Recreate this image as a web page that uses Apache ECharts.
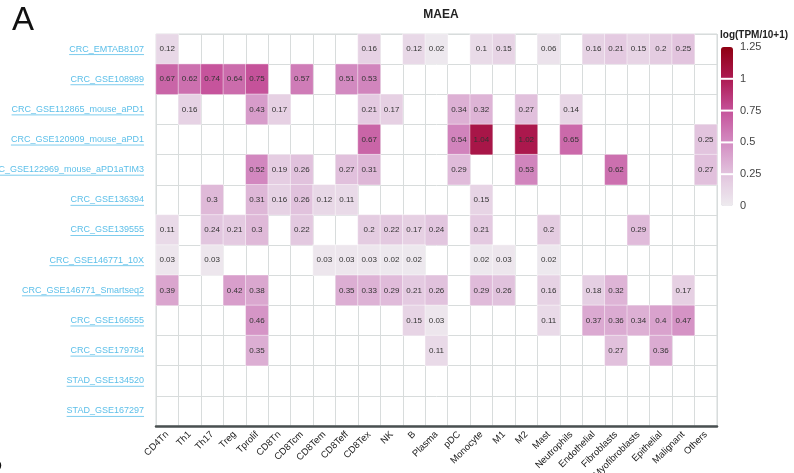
<!DOCTYPE html>
<html>
<head>
<meta charset="utf-8">
<script src="https://cdn.jsdelivr.net/npm/echarts@6/dist/echarts.min.js"></script>
<style>
  html, body { margin: 0; padding: 0; background: #fff; }
  #main { width: 794px; height: 473px; }
</style>
</head>
<body>
<div id="main"></div>
<script>
// cell types (x axis)
const cellTypes = ['CD4Tn', 'Th1', 'Th17', 'Treg', 'Tprolif', 'CD8Tn', 'CD8Tcm', 'CD8Tem', 'CD8Teff', 'CD8Tex',
  'NK', 'B', 'Plasma', 'pDC', 'Monocyte', 'M1', 'M2', 'Mast', 'Neutrophils', 'Endothelial',
  'Fibroblasts', 'Myofibroblasts', 'Epithelial', 'Malignant', 'Others'];

// datasets (y axis, top to bottom)
const datasets = ['CRC_EMTAB8107', 'CRC_GSE108989', 'CRC_GSE112865_mouse_aPD1', 'CRC_GSE120909_mouse_aPD1',
  'CRC_GSE122969_mouse_aPD1aTIM3', 'CRC_GSE136394', 'CRC_GSE139555', 'CRC_GSE146771_10X',
  'CRC_GSE146771_Smartseq2', 'CRC_GSE166555', 'CRC_GSE179784', 'STAD_GSE134520', 'STAD_GSE167297'];

const _ = null;
// values per dataset, one per cell type
const rowEMTAB8107 = [0.12, _, _, _, _, _, _, _, _, 0.16, _, 0.12, 0.02, _, 0.1, 0.15, _, 0.06, _, 0.16, 0.21, 0.15, 0.2, 0.25, _];
const rowGSE108989 = [0.67, 0.62, 0.74, 0.64, 0.75, _, 0.57, _, 0.51, 0.53, _, _, _, _, _, _, _, _, _, _, _, _, _, _, _];
const rowGSE112865 = [_, 0.16, _, _, 0.43, 0.17, _, _, _, 0.21, 0.17, _, _, 0.34, 0.32, _, 0.27, _, 0.14, _, _, _, _, _, _];
const rowGSE120909 = [_, _, _, _, _, _, _, _, _, 0.67, _, _, _, 0.54, 1.04, _, 1.02, _, 0.65, _, _, _, _, _, 0.25];
const rowGSE122969 = [_, _, _, _, 0.52, 0.19, 0.26, _, 0.27, 0.31, _, _, _, 0.29, _, _, 0.53, _, _, _, 0.62, _, _, _, 0.27];
const rowGSE136394 = [_, _, 0.3, _, 0.31, 0.16, 0.26, 0.12, 0.11, _, _, _, _, _, 0.15, _, _, _, _, _, _, _, _, _, _];
const rowGSE139555 = [0.11, _, 0.24, 0.21, 0.3, _, 0.22, _, _, 0.2, 0.22, 0.17, 0.24, _, 0.21, _, _, 0.2, _, _, _, 0.29, _, _, _];
const rowGSE146771_10X = [0.03, _, 0.03, _, _, _, _, 0.03, 0.03, 0.03, 0.02, 0.02, _, _, 0.02, 0.03, _, 0.02, _, _, _, _, _, _, _];
const rowGSE146771_SS2 = [0.39, _, _, 0.42, 0.38, _, _, _, 0.35, 0.33, 0.29, 0.21, 0.26, _, 0.29, 0.26, _, 0.16, _, 0.18, 0.32, _, _, 0.17, _];
const rowGSE166555 = [_, _, _, _, 0.46, _, _, _, _, _, _, 0.15, 0.03, _, _, _, _, 0.11, _, 0.37, 0.36, 0.34, 0.4, 0.47, _];
const rowGSE179784 = [_, _, _, _, 0.35, _, _, _, _, _, _, _, 0.11, _, _, _, _, _, _, _, 0.27, _, 0.36, _, _];
const rowGSE134520 = new Array(25).fill(null);
const rowGSE167297 = new Array(25).fill(null);

const rows = [rowEMTAB8107, rowGSE108989, rowGSE112865, rowGSE120909, rowGSE122969, rowGSE136394,
  rowGSE139555, rowGSE146771_10X, rowGSE146771_SS2, rowGSE166555, rowGSE179784, rowGSE134520, rowGSE167297];

// legend ticks
const legendTicks = [0, 0.25, 0.5, 0.75, 1, 1.25];

const heatData = [];
rows.forEach((row, y) => {
  row.forEach((v, x) => {
    if (v !== null) heatData.push([x, y, v]);
  });
});

const chart = echarts.init(document.getElementById('main'));

const gridLeft = 156, labelMargin = 12;
const vmTop = 47, vmLeft = 721, vmW = 12, vmH = 159, vmMax = 1.25;
const yLabelSize = 9;
const linkColor = '#5cbfe9';

const option = {
  animation: false,
  title: {
    text: 'MAEA',
    left: 436,
    top: 4,
    textAlign: 'center',
    textStyle: { fontSize: 12, fontWeight: 'bold', color: '#222', fontFamily: 'Liberation Sans' }
  },
  grid: {
    left: gridLeft, right: 77, top: 34, bottom: 47,
    outerBoundsMode: 'none',
    containLabel: false,
    show: true, borderColor: '#d3d8d8', borderWidth: 1
  },
  xAxis: {
    type: 'category',
    data: cellTypes,
    axisLine: { show: true, lineStyle: { color: '#4a5051', width: 2.5 } },
    axisTick: { show: false },
    splitLine: { show: true, interval: 0, lineStyle: { color: '#d8dcdc', width: 1 } },
    axisLabel: {
      interval: 0, rotate: 45, margin: 7,
      fontSize: 9.5, color: '#222', fontFamily: 'Liberation Sans'
    }
  },
  yAxis: {
    type: 'category',
    data: datasets,
    inverse: true,
    axisLine: { show: false },
    axisTick: { show: false },
    splitLine: { show: true, interval: 0, lineStyle: { color: '#d8dcdc', width: 1 } },
    axisLabel: {
      interval: 0, margin: labelMargin,
      fontSize: yLabelSize, color: linkColor, fontFamily: 'Liberation Sans'
    }
  },
  visualMap: {
    type: 'continuous',
    min: 0, max: vmMax,
    left: vmLeft, top: vmTop,
    itemWidth: vmW, itemHeight: vmH,
    calculable: false,
    showLabel: false,
    text: null,
    padding: 0,
    inRange: { color: ['#eeebef', '#e2c4de', '#d38cc2', '#c5529a', '#ad1a52', '#8f0012'] }
  },
  series: [{
    type: 'heatmap',
    data: heatData,
    itemStyle: { borderColor: 'rgba(255,255,255,0.45)', borderWidth: 1 },
    label: {
      show: true,
      fontSize: 8,
      color: '#333',
      fontFamily: 'Liberation Sans',
      formatter: p => String(p.value[2])
    }
  }]
};

chart.setOption(option);

// extra graphics: panel letters, legend title, legend ticks, underlines of links
const ctx = document.createElement('canvas').getContext('2d');
ctx.font = yLabelSize + 'px "Liberation Sans"';
const graphics = [
  { type: 'text', left: 12, top: 4, style: { text: 'A', fontSize: 33, fill: '#111', fontFamily: 'Liberation Sans' } },
  { type: 'text', left: -19, top: 446, style: { text: 'B', fontSize: 33, fill: '#111', fontFamily: 'Liberation Sans' } },
  { type: 'text', left: 720, top: 30, style: { text: 'log(TPM/10+1)', fontSize: 10, fontWeight: 'bold', fill: '#222', fontFamily: 'Liberation Sans' } }
];
legendTicks.forEach(t => {
  const y = vmTop + vmH * (1 - t / vmMax);
  graphics.push({
    type: 'text', x: vmLeft + vmW + 7, y: y,
    style: { text: String(t), fontSize: 11, fill: '#444', fontFamily: 'Liberation Sans', verticalAlign: 'middle' }
  });
  if (t > 0 && t < vmMax) {
    graphics.push({
      type: 'line', z: 100,
      shape: { x1: vmLeft - 1, y1: y, x2: vmLeft + vmW + 1, y2: y },
      style: { stroke: '#fff', lineWidth: 2 }
    });
  }
});
datasets.forEach((name, i) => {
  const y = chart.convertToPixel({ yAxisIndex: 0 }, i);
  const w = ctx.measureText(name).width;
  const xr = chart.convertToPixel({ xAxisIndex: 0 }, 0) - 11.2 - labelMargin;
  graphics.push({
    type: 'line',
    shape: { x1: xr - w, y1: y + 5.5, x2: xr, y2: y + 5.5 },
    style: { stroke: linkColor, lineWidth: 0.8 }
  });
});
chart.setOption({ graphic: graphics });
</script>
</body>
</html>
